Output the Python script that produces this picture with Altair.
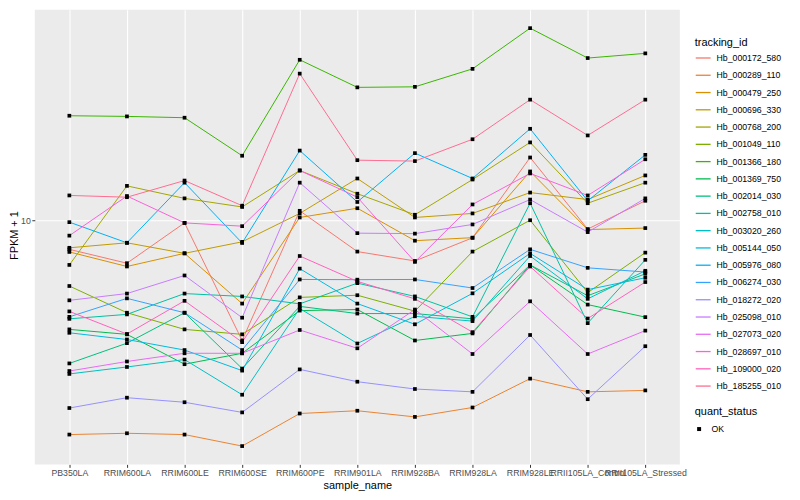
import altair as alt
import pandas as pd

samples = ["PB350LA", "RRIM600LA", "RRIM600LE", "RRIM600SE", "RRIM600PE", "RRIM901LA",
           "RRIM928BA", "RRIM928LA", "RRIM928LE", "RRII105LA_Control", "RRII105LA_Stressed"]

ids = ["Hb_000172_580", "Hb_000289_110", "Hb_000479_250", "Hb_000696_330", "Hb_000768_200",
       "Hb_001049_110", "Hb_001366_180", "Hb_001369_750", "Hb_002014_030", "Hb_002758_010",
       "Hb_003020_260", "Hb_005144_050", "Hb_005976_080", "Hb_006274_030", "Hb_018272_020",
       "Hb_025098_010", "Hb_027073_020", "Hb_028697_010", "Hb_109000_020", "Hb_185255_010"]

colors = ["#F8766D", "#EA8331", "#D89000", "#C09B00", "#A3A500", "#7CAE00", "#39B600", "#00BB4E",
          "#00BF7D", "#00C1A3", "#00BFC4", "#00BAE0", "#00B0F6", "#35A2FF", "#9590FF", "#C77CFF",
          "#E76BF3", "#FA62DB", "#FF62BC", "#FF6C91"]

hb_000172_580 = [8.11, 7.34, 9.81, 4.21, 10.7, 7.98, 7.46, 8.81, 15.7, 9.38, 11.5]
hb_000289_110 = [2.14, 2.16, 2.14, 1.97, 2.49, 2.54, 2.43, 2.60, 3.20, 2.91, 2.94]
hb_000479_250 = [7.96, 7.17, 7.88, 5.49, 10.2, 10.9, 8.63, 8.82, 14.2, 9.35, 9.45]
hb_000696_330 = [8.20, 8.50, 7.88, 8.56, 10.5, 13.5, 10.2, 10.5, 12.2, 11.6, 13.8]
hb_000768_200 = [7.25, 12.8, 11.7, 11.0, 14.3, 12.1, 10.4, 13.4, 17.5, 11.3, 13.1]
hb_001049_110 = [6.23, 5.14, 4.56, 4.40, 5.74, 5.83, 5.20, 7.98, 10.0, 5.94, 7.92]
hb_001366_180 = [21.2, 21.1, 20.9, 15.9, 31.7, 26.0, 26.1, 29.7, 39.8, 32.1, 33.2]
hb_001369_750 = [4.56, 4.40, 3.55, 3.84, 5.22, 5.26, 4.21, 4.43, 7.25, 5.45, 4.98]
hb_002014_030 = [3.57, 4.13, 5.14, 3.44, 5.38, 5.11, 5.11, 4.92, 7.25, 5.81, 6.80]
hb_002758_010 = [4.92, 5.08, 5.90, 5.78, 5.48, 6.36, 5.78, 4.99, 11.3, 4.77, 7.52]
hb_003020_260 = [3.31, 3.48, 3.67, 2.85, 5.30, 4.12, 5.01, 4.84, 7.73, 5.68, 6.95]
hb_005144_050 = [4.45, 4.24, 3.93, 3.39, 7.06, 5.49, 4.73, 5.91, 7.88, 6.07, 6.61]
hb_005976_080 = [9.86, 8.50, 13.1, 8.49, 16.5, 11.4, 16.2, 13.5, 19.3, 11.5, 16.0]
hb_006274_030 = [4.99, 5.70, 5.14, 3.93, 6.53, 6.52, 6.53, 6.14, 8.11, 7.10, 6.89]
hb_018272_020 = [2.59, 2.79, 2.70, 2.51, 3.42, 3.13, 2.97, 2.91, 4.38, 2.76, 4.04]
hb_025098_010 = [5.62, 5.90, 6.72, 4.96, 13.1, 9.11, 9.08, 9.70, 11.6, 9.18, 11.7]
hb_027073_020 = [3.38, 3.62, 3.84, 3.84, 4.54, 3.98, 5.26, 3.82, 5.58, 3.82, 4.52]
hb_028697_010 = [8.95, 11.9, 9.81, 9.58, 14.3, 11.8, 7.41, 11.2, 14.0, 11.95, 15.5]
hb_109000_020 = [5.19, 4.41, 5.60, 4.16, 7.73, 6.44, 5.68, 4.47, 7.17, 4.93, 6.41]
hb_185255_010 = [11.95, 11.8, 13.3, 11.1, 28.7, 15.4, 15.3, 17.9, 23.8, 18.4, 23.8]

series = [hb_000172_580, hb_000289_110, hb_000479_250, hb_000696_330, hb_000768_200,
          hb_001049_110, hb_001366_180, hb_001369_750, hb_002014_030, hb_002758_010,
          hb_003020_260, hb_005144_050, hb_005976_080, hb_006274_030, hb_018272_020,
          hb_025098_010, hb_027073_020, hb_028697_010, hb_109000_020, hb_185255_010]

rows = []
for tid, vals in zip(ids, series):
    for s, v in zip(samples, vals):
        rows.append({"tracking_id": tid, "sample_name": s, "fpkm": v, "quant_status": "OK"})
df = pd.DataFrame(rows)

FONT = "Liberation Sans"

x_enc = alt.X("sample_name:N", sort=samples,
              scale=alt.Scale(type="point", padding=0.6),
              axis=alt.Axis(title="sample_name", labelAngle=0, labelFontSize=8.8,
                            labelColor="#4D4D4D", labelPadding=1.5, tickColor="#333333",
                            tickSize=3, domain=False, grid=True, gridColor="white",
                            gridWidth=1.1, labelOverlap=False, titleFontSize=11,
                            titleFontWeight="normal", titleColor="black", titleY=15))
y_enc = alt.Y("fpkm:Q",
              scale=alt.Scale(type="log", domain=[1.727, 45.4], nice=False, zero=False),
              axis=alt.Axis(title="FPKM + 1", values=[10], format="d", labelFontSize=8.8,
                            labelColor="#4D4D4D", labelPadding=1.5, tickColor="#333333",
                            tickSize=3, domain=False, grid=True, gridColor="white",
                            gridWidth=1.1, titleFontSize=11, titleFontWeight="normal",
                            titleColor="black", titleX=-15, titleY=227))

lines = alt.Chart(df).mark_line(strokeWidth=1).encode(
    x=x_enc, y=y_enc,
    color=alt.Color("tracking_id:N", sort=ids,
                    scale=alt.Scale(domain=ids, range=colors),
                    legend=alt.Legend(title="tracking_id", orient="none", legendX=665,
                                      legendY=27, symbolType="stroke", symbolSize=225,
                                      symbolStrokeWidth=1.3, rowPadding=3.4, labelOffset=5,
                                      labelFontSize=8.8, labelColor="black",
                                      titleFontSize=11, titleFontWeight="normal",
                                      titleColor="black", titlePadding=2)),
)

points = alt.Chart(df).mark_point(filled=True, color="black", size=14, opacity=1).encode(
    x=x_enc, y=y_enc,
    shape=alt.Shape("quant_status:N", scale=alt.Scale(range=["square"]),
                    legend=alt.Legend(title="quant_status", orient="none", legendX=665,
                                      legendY=399, symbolSize=16, symbolFillColor="black",
                                      symbolStrokeColor="black", labelFontSize=8.8,
                                      labelColor="black", labelOffset=8, titleFontSize=11,
                                      titleFontWeight="normal", titleColor="black",
                                      titlePadding=8)),
)

chart = alt.layer(lines, points).properties(
    width=650, height=458,
    autosize=alt.AutoSizeParams(type="none"),
    padding={"left": 27, "top": 0, "right": 113, "bottom": 32},
).configure(font=FONT).configure_view(fill="#EBEBEB", strokeWidth=0)

chart.save("out.html", embed_options={"renderer": "svg", "actions": False})
